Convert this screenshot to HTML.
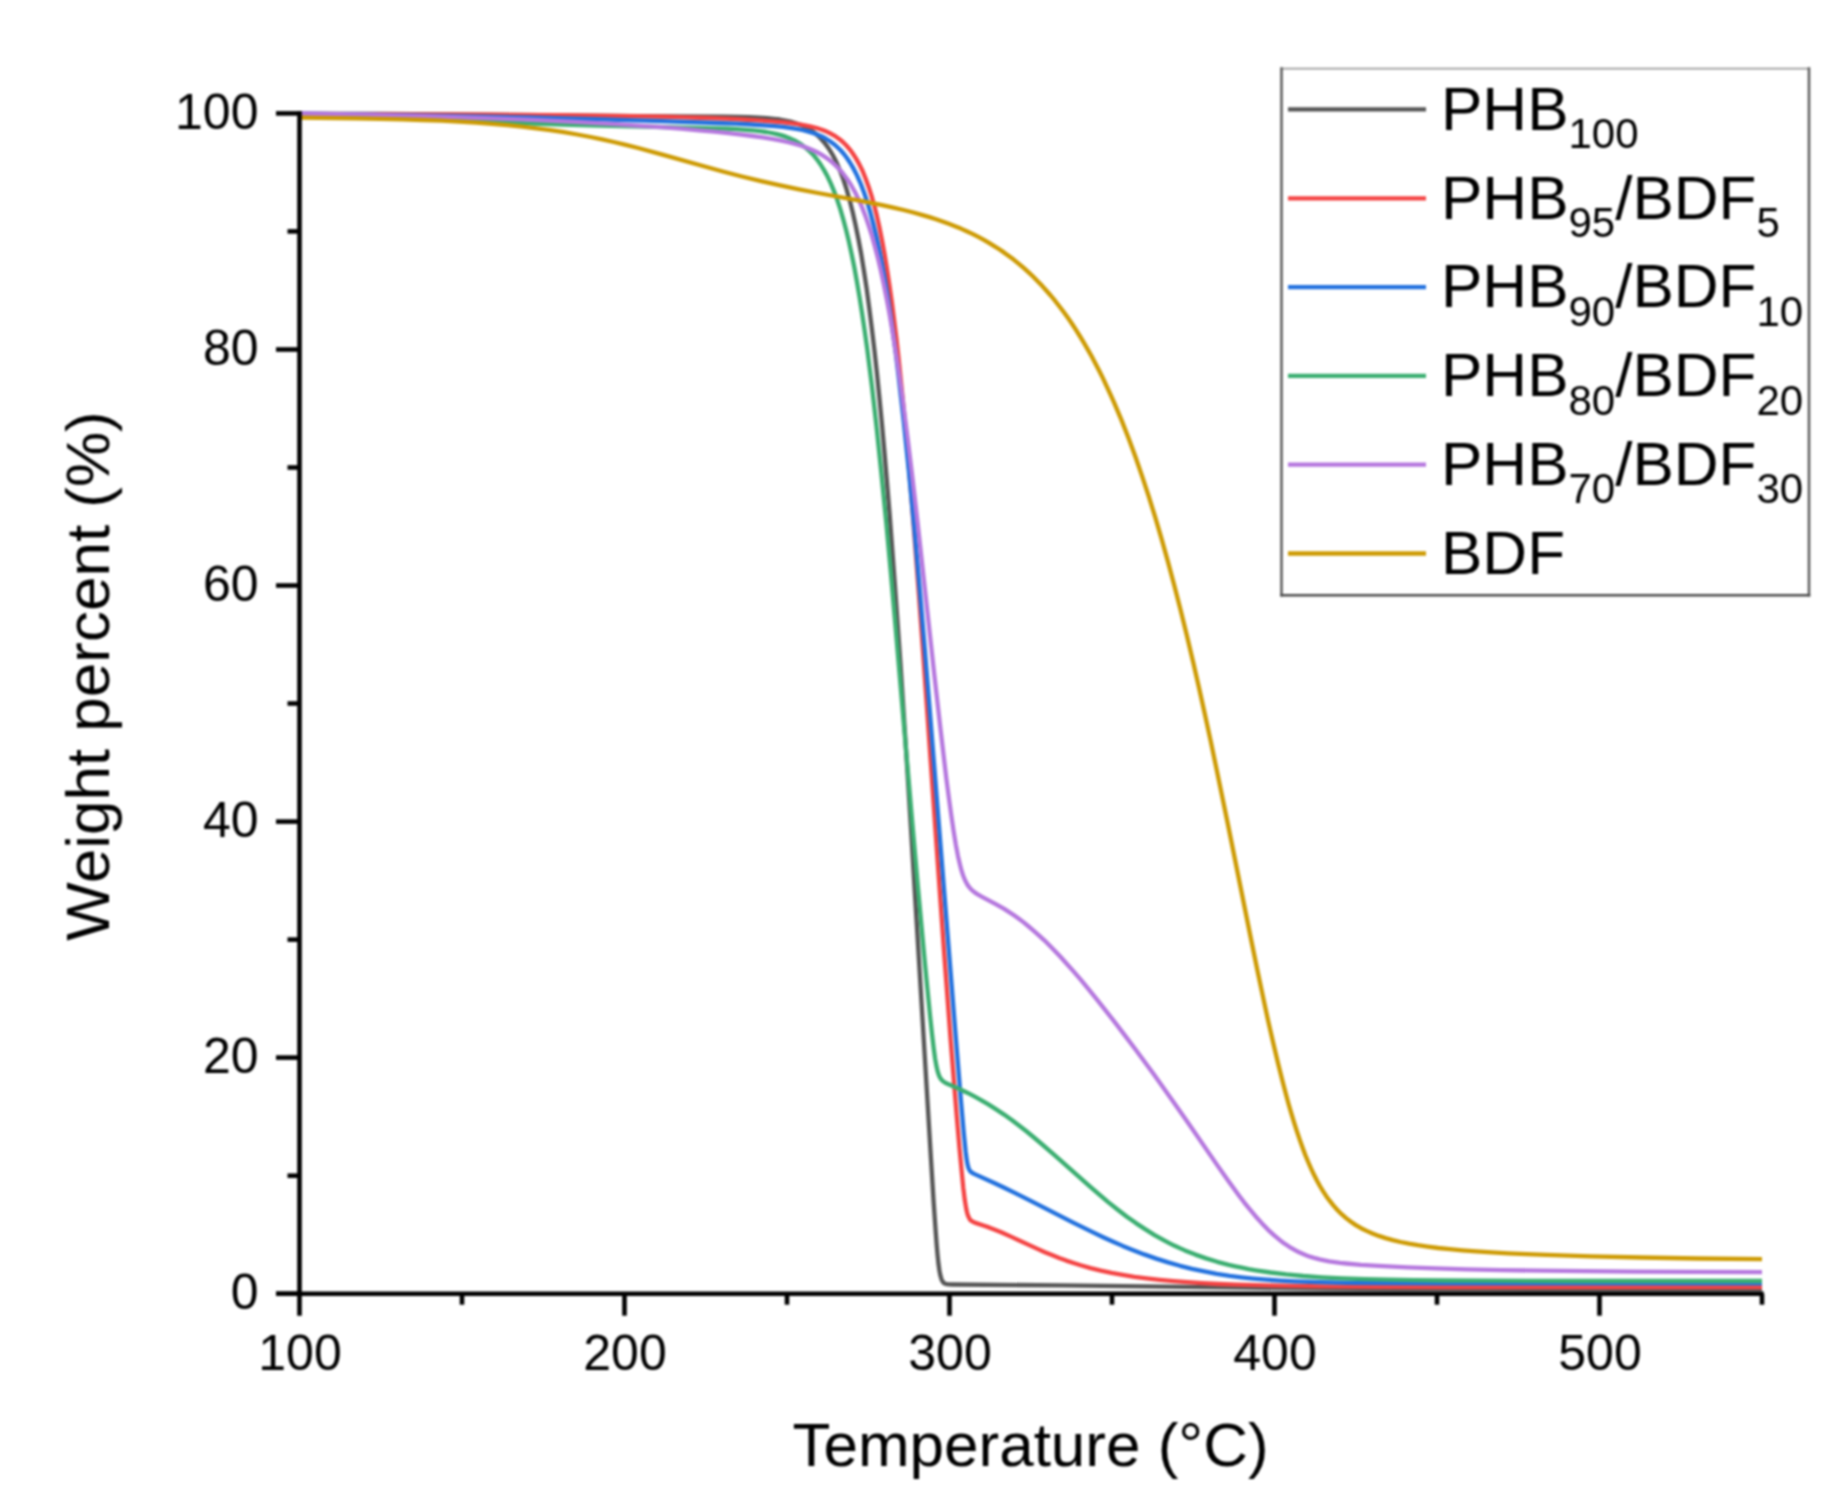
<!DOCTYPE html>
<html><head><meta charset="utf-8"><title>TGA curves</title><style>
html,body{margin:0;padding:0;background:#fff;overflow:hidden;}
svg{display:block;}
#w{filter:blur(1.0px);}
text{font-family:"Liberation Sans",Arial,sans-serif;fill:#000;}
.s{font-size:42px;}
</style></head><body>
<div id="w"><svg width="1844" height="1512" viewBox="0 0 1844 1512" xmlns="http://www.w3.org/2000/svg">
<rect width="1844" height="1512" fill="#fff"/>
<g fill="none" stroke-width="4.3" stroke-linejoin="round" stroke-linecap="butt">
<path d="M299.5,113.6 378.7,113.9 448.3,114.3 514.7,114.9 639.3,116.2 723.6,116.7 737.4,116.9 748.7,117.2 758.3,117.6 766.7,118.1 773.5,118.8 779.7,119.5 785.2,120.5 790.4,121.6 795.2,123.0 799.6,124.5 803.8,126.3 807.7,128.3 811.4,130.5 814.9,133.1 818.3,136.0 821.4,139.2 824.5,142.7 827.4,146.6 830.2,150.8 833.0,155.5 834.8,158.9 836.6,162.7 838.3,166.6 840.1,170.8 843.4,179.6 846.6,189.4 849.7,200.3 852.7,212.2 855.6,225.2 858.4,239.0 861.2,254.0 863.9,270.6 866.6,288.3 869.2,307.7 871.8,328.2 874.4,349.9 877.0,373.8 879.5,398.7 882.0,424.6 884.5,452.8 887.0,482.5 889.6,513.9 894.8,583.6 900.4,662.8 905.1,735.0 910.3,817.4 916.5,919.4 931.0,1159.3 933.7,1203.0 935.7,1231.7 936.7,1245.2 937.6,1255.4 938.5,1263.9 939.4,1270.4 940.3,1275.2 941.4,1278.9 941.9,1280.2 942.5,1281.3 943.1,1282.2 943.8,1283.0 945.1,1283.7 946.7,1284.2 948.8,1284.4 952.4,1284.5 1062.9,1285.4 1244.5,1287.7 1325.8,1288.5 1399.9,1289.0 1485.3,1289.2 1593.2,1289.4 1762.0,1289.4" stroke="#555555"/>
<path d="M299.5,114.2 408.4,114.4 491.0,114.7 557.9,115.1 613.9,115.8 664.1,116.7 686.6,117.3 707.4,118.0 726.6,118.7 743.8,119.5 758.9,120.4 771.9,121.3 781.7,122.1 790.3,123.1 798.0,124.1 804.9,125.3 811.0,126.6 816.7,128.0 821.9,129.7 826.6,131.6 831.1,133.8 835.3,136.2 839.2,138.9 842.9,142.0 846.4,145.5 849.7,149.3 852.8,153.5 855.8,158.1 859.2,164.1 862.5,170.8 865.5,178.2 868.5,186.4 871.4,195.4 874.1,205.0 876.8,215.6 879.4,227.2 881.9,239.6 884.4,253.1 886.8,267.8 889.2,283.5 891.6,300.2 893.9,318.2 896.3,337.6 898.6,358.4 902.6,397.5 906.7,440.8 910.8,489.6 915.2,545.3 918.9,594.7 923.1,652.4 938.0,866.1 944.2,953.7 950.7,1040.8 956.8,1116.8 959.5,1148.4 961.7,1171.6 963.3,1188.0 964.8,1200.2 966.2,1208.5 966.9,1211.8 967.6,1214.4 968.4,1216.6 969.3,1218.3 970.2,1219.8 971.3,1220.8 972.8,1221.8 974.7,1222.6 984.1,1225.8 989.0,1227.4 994.9,1229.7 1001.2,1232.3 1011.5,1236.9 1037.5,1248.9 1044.9,1252.2 1051.9,1255.1 1059.2,1258.0 1066.3,1260.6 1073.5,1263.0 1080.7,1265.3 1090.6,1268.1 1100.9,1270.6 1111.5,1272.9 1122.7,1274.9 1134.4,1276.8 1146.6,1278.4 1159.7,1279.9 1173.6,1281.2 1187.5,1282.2 1202.3,1283.2 1218.2,1284.0 1235.5,1284.6 1254.2,1285.2 1274.8,1285.7 1322.9,1286.4 1377.8,1286.8 1451.8,1287.0 1762.0,1287.1" stroke="#F44343"/>
<path d="M299.5,113.7 380.2,114.8 455.9,116.1 527.2,117.5 594.5,119.2 661.5,121.1 717.0,123.0 735.9,123.7 751.2,124.5 763.8,125.3 774.5,126.1 782.6,126.9 789.8,127.8 796.4,128.8 802.3,130.0 807.7,131.4 812.8,132.9 817.5,134.6 821.8,136.5 826.0,138.7 830.0,141.2 833.7,143.9 837.2,147.0 840.6,150.3 843.9,154.0 846.9,158.0 849.9,162.5 851.8,165.6 853.7,168.9 855.5,172.4 857.3,176.1 860.8,184.0 864.1,192.7 867.3,202.2 870.4,212.7 873.4,224.1 876.4,236.4 879.2,249.6 882.1,264.1 884.9,279.6 887.7,296.5 890.4,314.3 893.1,333.6 895.9,354.2 898.6,376.3 901.1,398.0 903.7,420.8 908.8,470.6 914.2,527.3 919.9,591.8 924.9,650.4 930.4,718.1 955.3,1031.1 960.7,1097.7 963.8,1133.2 965.7,1152.0 966.5,1158.1 967.2,1162.8 968.0,1166.3 968.9,1169.0 969.9,1170.8 970.5,1171.5 971.2,1172.1 972.4,1172.9 974.1,1173.9 994.8,1183.2 1004.8,1188.0 1015.3,1193.1 1032.7,1201.9 1072.7,1222.3 1092.6,1232.2 1103.2,1237.2 1113.2,1241.7 1122.7,1245.9 1132.0,1249.7 1144.2,1254.4 1156.2,1258.6 1168.1,1262.4 1180.0,1265.8 1192.0,1268.8 1204.2,1271.4 1216.7,1273.8 1229.6,1275.8 1241.3,1277.3 1253.5,1278.6 1266.3,1279.7 1280.0,1280.6 1294.5,1281.3 1310.3,1281.9 1327.7,1282.4 1347.4,1282.8 1385.8,1283.1 1440.4,1283.3 1762.0,1283.3" stroke="#2271DE"/>
<path d="M299.5,114.0 330.4,114.7 361.1,115.8 387.4,116.9 470.0,120.9 499.3,122.2 528.6,123.3 563.5,124.5 600.1,125.5 695.2,127.8 715.3,128.3 727.1,128.7 737.1,129.2 745.9,129.8 753.5,130.4 760.2,131.1 766.2,132.0 771.8,133.0 776.9,134.1 781.7,135.4 786.2,136.9 790.4,138.6 794.5,140.4 798.2,142.5 801.9,144.9 805.3,147.4 808.6,150.3 811.8,153.4 814.9,156.8 817.8,160.5 820.6,164.5 824.2,170.4 827.7,176.8 831.0,183.9 834.2,191.6 837.3,200.1 840.3,209.2 843.2,219.2 846.1,230.0 848.9,241.6 851.6,254.0 854.3,267.3 856.9,281.7 859.5,297.0 862.1,313.4 864.7,331.0 867.3,349.4 869.5,366.9 871.9,385.9 876.5,426.3 881.2,471.5 886.3,522.9 890.5,568.8 895.2,622.5 911.3,811.4 917.8,885.9 924.6,960.0 927.7,991.9 930.2,1017.1 932.1,1034.7 933.7,1048.3 935.1,1058.6 936.4,1066.0 937.8,1071.9 938.5,1074.1 939.2,1076.0 940.0,1077.6 940.9,1079.0 941.9,1080.2 943.0,1081.2 944.6,1082.3 946.8,1083.5 958.9,1088.8 967.2,1092.7 973.9,1096.2 980.6,1099.8 988.4,1104.4 996.2,1109.4 1004.1,1114.6 1012.1,1120.3 1019.0,1125.5 1026.1,1131.0 1033.4,1137.0 1041.1,1143.5 1055.4,1155.8 1089.8,1186.4 1099.4,1194.7 1108.2,1202.1 1117.8,1209.7 1126.9,1216.7 1135.9,1223.1 1144.7,1228.9 1154.6,1235.1 1164.6,1240.7 1169.7,1243.3 1174.7,1245.8 1179.8,1248.1 1184.9,1250.4 1190.1,1252.5 1195.4,1254.6 1206.1,1258.4 1217.2,1261.8 1228.7,1264.8 1235.2,1266.3 1241.8,1267.7 1248.6,1269.1 1255.7,1270.3 1270.5,1272.5 1286.3,1274.4 1303.3,1276.0 1321.8,1277.3 1342.2,1278.3 1365.0,1279.1 1387.9,1279.7 1413.9,1280.2 1444.0,1280.5 1479.8,1280.7 1573.9,1281.0 1762.0,1281.0" stroke="#3AAE70"/>
<path d="M299.5,113.5 363.5,114.7 422.3,116.1 476.8,117.8 527.3,119.7 574.7,121.9 619.2,124.4 640.4,125.8 660.9,127.2 680.5,128.7 699.0,130.3 714.3,131.7 728.4,133.1 741.2,134.6 752.5,136.0 762.7,137.4 771.8,138.9 780.0,140.4 787.4,142.0 794.2,143.7 800.5,145.5 806.3,147.5 811.7,149.7 816.7,152.0 821.4,154.6 825.9,157.5 830.1,160.6 832.5,162.6 834.8,164.7 837.1,166.9 839.3,169.2 841.5,171.6 843.5,174.2 847.6,179.7 851.4,185.7 855.1,192.3 858.6,199.5 862.1,207.4 865.4,215.9 868.6,225.3 871.8,235.3 874.8,246.1 877.8,257.6 880.8,270.3 883.7,283.9 886.6,298.2 889.2,312.2 891.8,327.1 894.3,342.6 896.9,359.4 899.5,377.1 902.2,396.2 907.6,438.2 912.3,476.8 917.5,521.9 934.4,675.4 940.6,730.1 946.4,779.0 949.0,798.8 951.3,815.5 953.7,831.8 955.9,845.1 958.0,856.2 960.2,865.5 961.2,869.4 962.3,873.0 963.4,876.2 964.6,879.1 965.7,881.6 967.0,884.0 968.3,886.0 969.8,887.8 971.3,889.5 972.9,891.0 974.7,892.4 976.9,893.9 981.6,896.6 996.2,904.3 1004.2,908.9 1009.2,912.1 1014.0,915.3 1018.9,918.8 1023.7,922.4 1028.7,926.5 1033.8,930.8 1038.9,935.3 1044.1,940.1 1049.3,945.3 1054.7,950.7 1060.2,956.5 1065.8,962.7 1073.1,970.9 1080.7,979.7 1088.7,989.4 1097.2,999.9 1106.3,1011.3 1115.9,1023.6 1125.8,1036.6 1135.9,1050.0 1153.6,1074.1 1171.7,1099.5 1187.7,1122.3 1217.4,1165.4 1228.4,1181.0 1239.3,1195.9 1244.1,1202.3 1248.8,1208.2 1255.5,1216.2 1262.0,1223.4 1268.1,1229.8 1274.2,1235.4 1280.2,1240.4 1283.2,1242.7 1286.3,1244.8 1289.3,1246.8 1292.4,1248.6 1295.5,1250.4 1298.6,1252.0 1302.6,1253.8 1306.6,1255.4 1310.8,1256.9 1315.1,1258.2 1319.6,1259.4 1324.3,1260.4 1329.2,1261.4 1334.6,1262.2 1340.0,1262.9 1346.1,1263.5 1360.9,1264.8 1382.9,1266.1 1407.3,1267.3 1435.4,1268.4 1466.6,1269.3 1501.5,1270.1 1540.7,1270.7 1584.7,1271.2 1635.2,1271.6 1693.4,1271.9 1762.0,1272.1" stroke="#B577DE"/>
<path d="M299.5,117.7 356.0,118.3 380.1,118.8 402.1,119.3 422.5,120.0 441.4,120.7 459.1,121.6 475.8,122.6 492.0,123.8 507.3,125.1 522.1,126.6 536.4,128.3 550.3,130.1 563.9,132.2 577.3,134.5 590.6,137.0 602.1,139.4 613.8,142.0 625.8,144.9 638.2,148.0 661.5,154.3 704.8,166.5 722.8,171.5 741.9,176.5 760.1,180.9 779.1,185.2 799.0,189.3 817.9,193.0 860.9,200.9 882.1,205.1 893.3,207.6 903.6,210.0 913.4,212.5 922.6,215.1 929.5,217.1 936.1,219.2 942.5,221.5 948.8,223.8 955.0,226.2 960.9,228.6 966.7,231.2 972.4,233.9 977.9,236.7 983.4,239.6 988.6,242.6 993.8,245.8 998.9,249.0 1003.9,252.4 1008.8,256.0 1013.7,259.6 1018.6,263.6 1023.4,267.7 1028.1,271.9 1032.8,276.3 1037.4,280.9 1041.9,285.6 1046.3,290.5 1050.7,295.5 1055.0,300.7 1059.3,306.2 1063.5,311.8 1067.7,317.6 1071.8,323.5 1075.8,329.7 1079.8,336.0 1083.8,342.6 1087.7,349.3 1091.6,356.3 1095.4,363.5 1099.2,370.8 1103.0,378.4 1106.7,386.3 1110.4,394.4 1114.1,402.6 1121.4,419.9 1128.5,438.0 1135.6,457.3 1142.5,477.4 1148.9,496.9 1155.2,517.2 1161.5,538.7 1167.8,561.1 1174.1,584.7 1180.4,609.3 1186.8,635.2 1193.3,662.8 1198.9,687.2 1204.6,713.0 1210.5,740.1 1216.6,769.4 1227.9,824.2 1251.9,943.5 1257.6,971.3 1262.7,995.4 1268.1,1020.6 1273.3,1043.3 1278.1,1063.6 1282.8,1082.2 1285.7,1093.3 1288.5,1103.7 1291.4,1113.6 1294.2,1122.8 1297.0,1131.6 1299.8,1139.9 1302.6,1147.7 1305.4,1155.2 1308.2,1162.0 1311.1,1168.6 1314.0,1174.8 1316.9,1180.5 1319.9,1186.0 1323.0,1191.1 1326.1,1195.9 1329.4,1200.4 1333.3,1205.4 1337.4,1210.0 1341.6,1214.2 1346.1,1218.1 1350.9,1221.8 1355.8,1225.1 1361.1,1228.2 1366.6,1230.9 1372.5,1233.5 1378.8,1235.9 1385.6,1238.1 1392.8,1240.1 1400.5,1242.0 1408.9,1243.7 1417.8,1245.2 1427.5,1246.6 1438.2,1248.0 1449.7,1249.2 1462.3,1250.3 1476.2,1251.4 1491.5,1252.4 1508.2,1253.3 1526.5,1254.1 1546.3,1254.9 1590.8,1256.4 1641.0,1257.5 1697.5,1258.5 1762.0,1259.2" stroke="#CD9A02"/>
</g>
<g fill="none" stroke="#000" stroke-width="4.6" stroke-linecap="butt">
<path d="M299.5,111.1 V1315.7"/>
<path d="M276,1293.7 H1763.7"/>
<path d="M276,1293.7 H299.5"/>
<path d="M287.5,1175.7 H299.5"/>
<path d="M276,1057.6 H299.5"/>
<path d="M287.5,939.6 H299.5"/>
<path d="M276,821.6 H299.5"/>
<path d="M287.5,703.5 H299.5"/>
<path d="M276,585.5 H299.5"/>
<path d="M287.5,467.5 H299.5"/>
<path d="M276,349.5 H299.5"/>
<path d="M287.5,231.4 H299.5"/>
<path d="M276,113.4 H299.5"/>
<path d="M462.0,1293.7 V1304.7"/>
<path d="M624.5,1293.7 V1315.7"/>
<path d="M787.0,1293.7 V1304.7"/>
<path d="M949.5,1293.7 V1315.7"/>
<path d="M1112.0,1293.7 V1304.7"/>
<path d="M1274.5,1293.7 V1315.7"/>
<path d="M1437.0,1293.7 V1304.7"/>
<path d="M1599.5,1293.7 V1315.7"/>
<path d="M1762.0,1293.7 V1304.7"/>
</g>
<g font-size="50">
<text x="258.5" y="1309.0" text-anchor="end">0</text>
<text x="258.5" y="1072.9" text-anchor="end">20</text>
<text x="258.5" y="836.9" text-anchor="end">40</text>
<text x="258.5" y="600.8" text-anchor="end">60</text>
<text x="258.5" y="364.8" text-anchor="end">80</text>
<text x="258.5" y="128.7" text-anchor="end">100</text>
<text x="300.0" y="1370" text-anchor="middle">100</text>
<text x="625.0" y="1370" text-anchor="middle">200</text>
<text x="950.0" y="1370" text-anchor="middle">300</text>
<text x="1275.0" y="1370" text-anchor="middle">400</text>
<text x="1600.0" y="1370" text-anchor="middle">500</text>
</g>
<g fill="none" stroke-linecap="square"><path d="M1281.5,68.6 H1809" stroke="#999" stroke-width="1.8"/><path d="M1281.5,68.6 V595.2 M1809,68.6 V595.2" stroke="#5a5a5a" stroke-width="2.5"/><path d="M1281.5,595.2 H1809" stroke="#4a4a4a" stroke-width="2.5"/></g>
<g font-size="62">
<path d="M1288,109.3 H1426" stroke="#555555" stroke-width="4.3"/>
<text x="1441" y="129.5">PHB<tspan class="s" dy="18.5">100</tspan></text>
<path d="M1288,198.3 H1426" stroke="#F44343" stroke-width="4.3"/>
<text x="1441" y="218.5">PHB<tspan class="s" dy="18.5">95</tspan><tspan dy="-18.5">/BDF</tspan><tspan class="s" dy="18.5">5</tspan></text>
<path d="M1288,287.1 H1426" stroke="#2271DE" stroke-width="4.3"/>
<text x="1441" y="307.3">PHB<tspan class="s" dy="18.5">90</tspan><tspan dy="-18.5">/BDF</tspan><tspan class="s" dy="18.5">10</tspan></text>
<path d="M1288,375.9 H1426" stroke="#3AAE70" stroke-width="4.3"/>
<text x="1441" y="396.1">PHB<tspan class="s" dy="18.5">80</tspan><tspan dy="-18.5">/BDF</tspan><tspan class="s" dy="18.5">20</tspan></text>
<path d="M1288,464.7 H1426" stroke="#B577DE" stroke-width="4.3"/>
<text x="1441" y="484.9">PHB<tspan class="s" dy="18.5">70</tspan><tspan dy="-18.5">/BDF</tspan><tspan class="s" dy="18.5">30</tspan></text>
<path d="M1288,553.5 H1426" stroke="#CD9A02" stroke-width="4.3"/>
<text x="1441" y="573.7">BDF</text>
</g>
<text x="1030.5" y="1465.5" font-size="62" text-anchor="middle">Temperature (°C)</text>
<text transform="translate(108.5,676) rotate(-90)" font-size="62" text-anchor="middle">Weight percent (%)</text>
</svg></div>
</body></html>
